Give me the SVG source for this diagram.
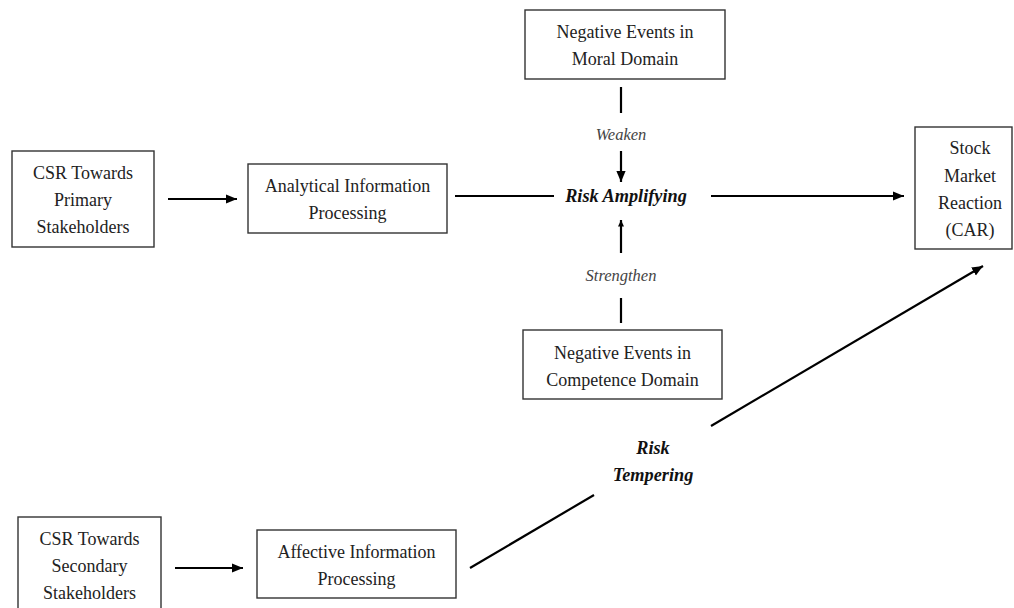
<svg xmlns="http://www.w3.org/2000/svg" width="1014" height="608" viewBox="0 0 1014 608">
<style>
.box{fill:#fff;stroke:#333;stroke-width:1.4}
.t{font-family:"Liberation Serif","Times New Roman",serif;font-size:18px;fill:#222;text-anchor:middle}
.it{font-family:"Liberation Serif","Times New Roman",serif;font-size:16.5px;font-style:italic;fill:#444;text-anchor:middle}
.bi{font-family:"Liberation Serif","Times New Roman",serif;font-size:18.3px;font-style:italic;font-weight:bold;fill:#111;text-anchor:middle}
.c{stroke:#000;stroke-width:2.2;fill:none}
</style>
<defs>
<marker id="ah" viewBox="0 0 10 10" refX="10" refY="5" markerWidth="5" markerHeight="5" orient="auto" markerUnits="strokeWidth">
<path d="M0,0.8 L10,5 L0,9.2 z" fill="#000"/>
</marker>
<marker id="ahs" viewBox="0 0 10 10" refX="10" refY="5" markerWidth="3" markerHeight="3" orient="auto" markerUnits="strokeWidth">
<path d="M0,0.5 L10,5 L0,9.5 z" fill="#000"/>
</marker>
</defs>
<rect width="1014" height="608" fill="#fff"/>
<g id="connectors">
<line class="c" x1="168" y1="199" x2="237" y2="199" marker-end="url(#ah)"/>
<line class="c" x1="455" y1="196" x2="554" y2="196"/>
<line class="c" x1="711" y1="196" x2="904" y2="196" marker-end="url(#ah)"/>
<line class="c" x1="621" y1="87" x2="621" y2="113"/>
<line class="c" x1="621" y1="151" x2="621" y2="182" marker-end="url(#ah)"/>
<line class="c" x1="621" y1="253" x2="621" y2="220" marker-end="url(#ahs)"/>
<line class="c" x1="621" y1="298" x2="621" y2="323"/>
<line class="c" x1="175" y1="568" x2="243" y2="568" marker-end="url(#ah)"/>
<line class="c" x1="470" y1="568" x2="594" y2="495"/>
<line class="c" x1="711" y1="426" x2="983" y2="266" marker-end="url(#ah)"/>
<text class="it" x="621" y="140">Weaken</text>
<text class="it" x="621" y="281">Strengthen</text>
<text class="bi" x="626" y="202">Risk Amplifying</text>
<text class="bi" x="653" y="454">Risk</text>
<text class="bi" x="653" y="481">Tempering</text>
</g>
<g id="csr-primary">
<rect class="box" x="12" y="151" width="142" height="96"/>
<text class="t" x="83" y="179">CSR Towards</text>
<text class="t" x="83" y="206">Primary</text>
<text class="t" x="83" y="233">Stakeholders</text>
</g>
<g id="analytical">
<rect class="box" x="248" y="164" width="199" height="69"/>
<text class="t" x="347.5" y="192">Analytical Information</text>
<text class="t" x="347.5" y="219">Processing</text>
</g>
<g id="moral">
<rect class="box" x="525" y="10" width="200" height="69"/>
<text class="t" x="625" y="38">Negative Events in</text>
<text class="t" x="625" y="65">Moral Domain</text>
</g>
<g id="competence">
<rect class="box" x="523" y="330" width="199" height="69"/>
<text class="t" x="622.5" y="359">Negative Events in</text>
<text class="t" x="622.5" y="386">Competence Domain</text>
</g>
<g id="stock">
<rect class="box" x="915" y="127" width="97" height="122"/>
<text class="t" x="970" y="154">Stock</text>
<text class="t" x="970" y="182">Market</text>
<text class="t" x="970" y="209">Reaction</text>
<text class="t" x="970" y="236">(CAR)</text>
</g>
<g id="csr-secondary">
<rect class="box" x="18" y="517" width="143" height="100"/>
<text class="t" x="89.5" y="545">CSR Towards</text>
<text class="t" x="89.5" y="572">Secondary</text>
<text class="t" x="89.5" y="599">Stakeholders</text>
</g>
<g id="affective">
<rect class="box" x="257" y="530" width="199" height="68"/>
<text class="t" x="356.5" y="558">Affective Information</text>
<text class="t" x="356.5" y="585">Processing</text>
</g>
</svg>
